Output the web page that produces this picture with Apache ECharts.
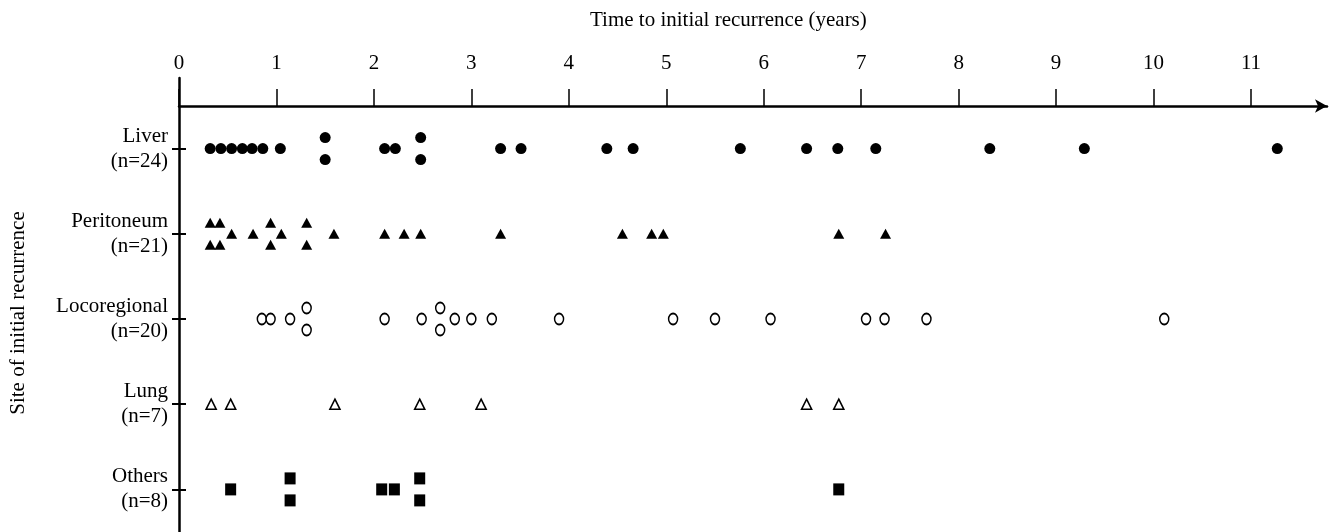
<!DOCTYPE html>
<html>
<head>
<meta charset="utf-8">
<script src="https://cdn.jsdelivr.net/npm/echarts@6/dist/echarts.min.js"></script>
<style>
html,body{margin:0;padding:0;background:#fff;}
#chart{width:1333px;height:532px;}
</style>
</head>
<body>
<div id="chart"></div>
<script>
const categories = ['Liver', 'Peritoneum', 'Locoregional', 'Lung', 'Others'];
const liver = [0.32, 0.43, 0.54, 0.65, 0.75, 0.86, 1.04, 1.50, 1.50, 2.11, 2.22, 2.48, 2.48, 3.30, 3.51, 4.39, 4.66, 5.76, 6.44, 6.76, 7.15, 8.32, 9.29, 11.27];
const peritoneum = [0.32, 0.32, 0.42, 0.42, 0.54, 0.76, 0.94, 0.94, 1.05, 1.31, 1.31, 1.59, 2.11, 2.31, 2.48, 3.30, 4.55, 4.85, 4.97, 6.77, 7.25];
const locoregional = [0.85, 0.94, 1.14, 1.31, 1.31, 2.11, 2.49, 2.68, 2.68, 2.83, 3.00, 3.21, 3.90, 5.07, 5.50, 6.07, 7.05, 7.24, 7.67, 10.11];
const lung = [0.33, 0.53, 1.60, 2.47, 3.10, 6.44, 6.77];
const others = [0.53, 1.14, 1.14, 2.08, 2.21, 2.47, 2.47, 6.77];
const xTickValues = [0, 1, 2, 3, 4, 5, 6, 7, 8, 9, 10, 11];

const siteValues = [liver, peritoneum, locoregional, lung, others];
const FONT = "'Liberation Serif', 'Times New Roman', serif";
const STACK_GAP = 11;

function toPoints(values, row) {
  const counts = {};
  values.forEach(v => { counts[v] = (counts[v] || 0) + 1; });
  const seen = {};
  return values.map(v => {
    const item = { value: [v, categories[row]] };
    if (counts[v] > 1) {
      const k = seen[v] || 0;
      seen[v] = k + 1;
      item.symbolOffset = [0, k === 0 ? -STACK_GAP : STACK_GAP];
    }
    return item;
  });
}

const markerStyles = [
  { symbol: 'circle', symbolSize: 11, itemStyle: { color: '#000', opacity: 1 } },
  { symbol: 'triangle', symbolSize: [11, 10], itemStyle: { color: '#000', opacity: 1 } },
  { symbol: 'circle', symbolSize: [9, 11], itemStyle: { color: '#fff', borderColor: '#000', borderWidth: 1.6, opacity: 1 } },
  { symbol: 'triangle', symbolSize: [10, 10], itemStyle: { color: '#fff', borderColor: '#000', borderWidth: 1.6, opacity: 1 } },
  { symbol: 'rect', symbolSize: [11, 12], itemStyle: { color: '#000', opacity: 1 } }
];

const series = siteValues.map((vals, i) => Object.assign({
  type: 'scatter',
  name: categories[i],
  xAxisIndex: 0,
  yAxisIndex: 0,
  data: toPoints(vals, i),
  z: 5
}, markerStyles[i]));

const chart = echarts.init(document.getElementById('chart'));
chart.setOption({
  animation: false,
  backgroundColor: '#fff',
  title: {
    text: 'Time to initial recurrence (years)',
    left: 585,
    top: 5,
    textStyle: { fontFamily: FONT, fontSize: 21, fontWeight: 'normal', color: '#000' }
  },
  grid: [
    { left: 179, right: 6, top: 106, bottom: -2 },
    { left: 179, right: 6, top: 78, bottom: 0 }
  ],
  xAxis: [
    {
      gridIndex: 0,
      type: 'value',
      position: 'top',
      min: 0,
      max: 11.78,
      axisLine: {
        show: true,
        onZero: false,
        symbol: ['none', 'arrow'],
        symbolSize: [10, 12],
        lineStyle: { color: '#000', width: 2.5 }
      },
      axisTick: {
        show: true,
        inside: false,
        length: 17,
        customValues: xTickValues,
        lineStyle: { color: '#000', width: 1.5 }
      },
      axisLabel: {
        customValues: xTickValues,
        margin: 32,
        fontSize: 21,
        fontFamily: FONT,
        color: '#000'
      },
      splitLine: { show: false }
    },
    { gridIndex: 1, type: 'value', show: false, min: 0, max: 1 }
  ],
  yAxis: [
    {
      gridIndex: 0,
      type: 'category',
      position: 'left',
      data: categories,
      inverse: true,
      boundaryGap: true,
      axisLine: { show: false },
      axisTick: { show: true, alignWithLabel: true, inside: false, length: 7, lineStyle: { color: '#000', width: 2 } },
      axisLabel: {
        margin: 11,
        fontSize: 21,
        lineHeight: 25,
        padding: [10, 0, 0, 0],
        fontFamily: FONT,
        color: '#000',
        align: 'right',
        formatter: (v, idx) => v + '\n(n=' + siteValues[idx].length + ')'
      },
      splitLine: { show: false },
      name: 'Site of initial recurrence',
      nameLocation: 'middle',
      nameGap: 150,
      nameTextStyle: { fontFamily: FONT, fontSize: 21, color: '#000', padding: [0, 0, 0, 12] }
    },
    {
      gridIndex: 0,
      type: 'category',
      position: 'left',
      offset: 0,
      data: categories,
      inverse: true,
      boundaryGap: true,
      axisLine: { show: false },
      axisTick: { show: true, alignWithLabel: true, inside: true, length: 7, lineStyle: { color: '#000', width: 2 } },
      axisLabel: { show: false },
      splitLine: { show: false }
    },
    {
      gridIndex: 1,
      type: 'value',
      position: 'left',
      min: 0,
      max: 1,
      axisLine: { show: true, onZero: false, lineStyle: { color: '#000', width: 2.5 } },
      axisTick: { show: false },
      axisLabel: { show: false },
      splitLine: { show: false }
    }
  ],
  series: series
});
</script>
</body>
</html>
